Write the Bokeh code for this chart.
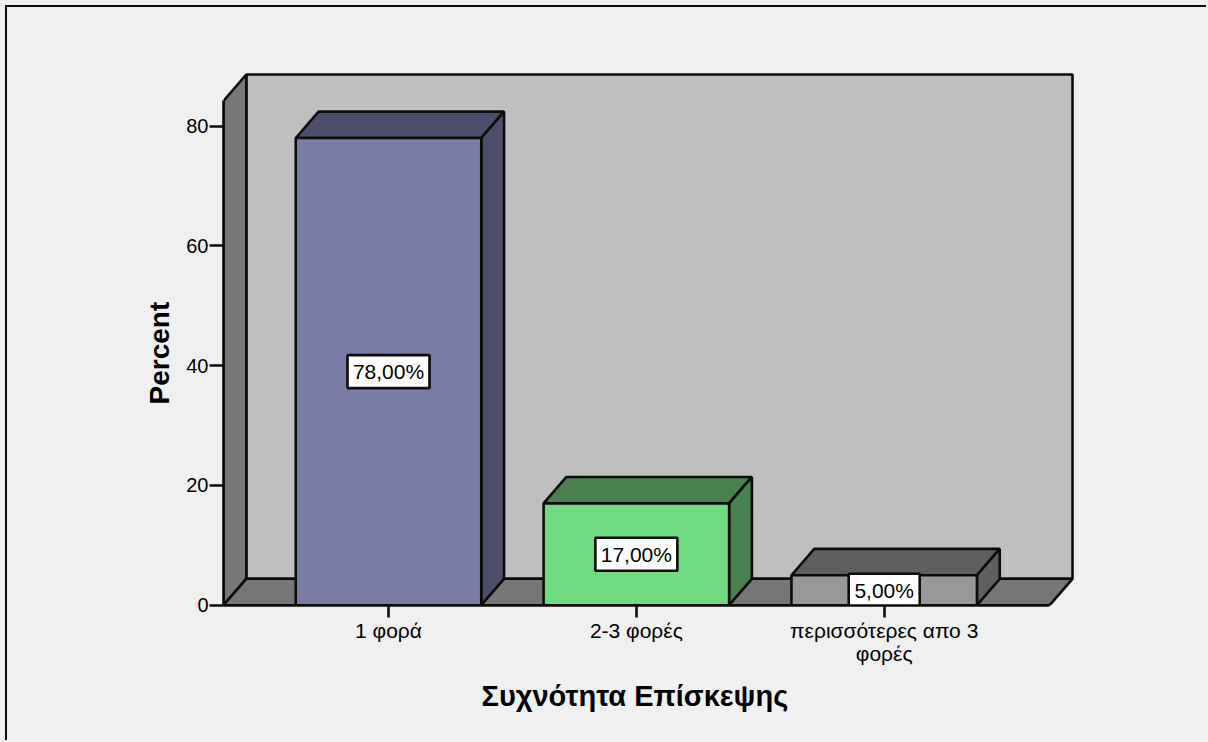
from bokeh.plotting import figure
from bokeh.models import Title, FixedTicker
from bokeh.embed import file_html
from bokeh.resources import INLINE
from bokeh.core.properties import value

categories = ["1 φορά", "2-3 φορές", "περισσότερες απο 3\nφορές"]
percents = [78.0, 17.0, 5.0]
bar_labels = ["78,00%", "17,00%", "5,00%"]
face_colors = ["#7b7ba8", "#71db82", "#989898"]
dark_colors = ["#4d4d6b", "#48804f", "#5f5f5f"]
y_ticks = [0, 20, 40, 60, 80]
y_title = "Percent"
x_title = "Συχνότητα Επίσκεψης"

FONT = "Liberation Sans"
BG = "#f0f0f0"
INK = "#0c0c0c"
OX, OY = 7, 7          # figure content origin on the page
W, H = 1208 - OX, 742 - OY
L, R, T, B = 223 - OX, 1072 - OX, 74 - OY, 605 - OY
PAD = 3                # frame slack so the far wall's outline is not clipped
PX_X = 247.85          # pixels per category
PX_Y = 5.99            # pixels per percent
DX = 22.8 / PX_X       # 3-D depth in data units
DY = 26.4 / PX_Y
BAR_W = 185.5 / PX_X
LW = 2.6
x_pos = [1, 2, 3]
x0 = 1 - (388 - 223) / PX_X
x1 = x0 + (R + PAD - L) / PX_X
y0 = -0.05
y1 = y0 + (B - T + PAD) / PX_Y

p = figure(width=W, height=H, output_backend="svg", toolbar_location=None,
           x_range=(x0, x1), y_range=(y0, y1),
           min_border_left=L, min_border_right=W - R - PAD, min_border_top=T - PAD, min_border_bottom=H - B,
           styles={"border-left": f"2px solid {INK}", "border-top": f"2px solid {INK}",
                   "margin-left": "5px", "margin-top": "5px"})
p.background_fill_color = BG
p.border_fill_color = BG
p.outline_line_color = None
p.grid.visible = False

# walls and floor
xl, xr = x0, x0 + (R - L) / PX_X - DX
top = y0 + (B - T) / PX_Y - DY
p.patches(xs=[[xl + DX, xr + DX, xr + DX, xl + DX]], ys=[[DY, DY, top + DY, top + DY]],
          fill_color="#bfbfbf", line_color=INK, line_width=LW)
p.patches(xs=[[xl, xl + DX, xl + DX, xl]], ys=[[0, DY, top + DY, top]],
          fill_color="#777777", line_color=INK, line_width=LW)
p.patches(xs=[[xl, xl + DX, xr + DX, xr]], ys=[[0, DY, DY, 0]],
          fill_color="#777777", line_color=INK, line_width=LW)

# bars
for xc, v, face, dark in zip(x_pos, percents, face_colors, dark_colors):
    a, b = xc - BAR_W / 2, xc + BAR_W / 2
    p.patches(xs=[[a, a + DX, b + DX, b]], ys=[[v, v + DY, v + DY, v]],
              fill_color=dark, line_color=INK, line_width=LW)
    p.patches(xs=[[b, b + DX, b + DX, b]], ys=[[0, DY, v + DY, v]],
              fill_color=dark, line_color=INK, line_width=LW)
    p.quad(left=a, right=b, bottom=0, top=v, fill_color=face, line_color=INK, line_width=LW)

# value boxes
for xc, v, txt in zip(x_pos, percents, bar_labels):
    p.rect(x=xc, y=v / 2, width=len(txt) * 11 + 16, height=33, width_units="screen", height_units="screen",
           fill_color="white", line_color=INK, line_width=LW)
    p.text(x=[xc], y=[v / 2], text=[txt], text_font=value(FONT), text_font_size="21px",
           text_color="#000000", text_align="center", text_baseline="middle")

# axes
xa = p.xaxis[0]
xa.ticker = FixedTicker(ticks=x_pos)
xa.major_label_overrides = {xp: c for xp, c in zip(x_pos, categories)}
xa.major_label_text_font = FONT
xa.major_label_text_font_size = "21px"
xa.major_label_text_color = "#000000"
xa.major_label_text_line_height = 1.0
xa.major_label_standoff = 1
xa.major_tick_out = 12
xa.major_tick_in = 0
xa.major_tick_line_width = LW
xa.major_tick_line_color = INK
xa.minor_tick_line_color = None
xa.axis_line_width = LW
xa.axis_line_color = INK
xa.bounds = (xl, xr)

ya = p.yaxis[0]
ya.ticker = FixedTicker(ticks=y_ticks)
ya.major_label_text_font = FONT
ya.major_label_text_font_size = "20px"
ya.major_label_text_color = "#000000"
ya.major_label_standoff = 1
ya.major_tick_out = 14
ya.major_tick_in = 0
ya.major_tick_line_width = LW
ya.major_tick_line_color = INK
ya.minor_tick_line_color = None
ya.axis_line_color = INK
ya.axis_line_width = LW
ya.bounds = (0, top)

# axis titles
p.add_layout(Title(text=x_title, align="left", offset=481 - 223, standoff=20,
                   text_font=FONT, text_font_size="29px", text_font_style="bold",
                   text_color="#000000"), "below")
p.add_layout(Title(text=y_title, align="left", offset=605 - 404, standoff=18,
                   text_font=FONT, text_font_size="28px", text_font_style="bold",
                   text_color="#000000"), "left")

html = file_html(p, INLINE)
html = html.replace("<head>", f"<head><style>html,body{{margin:0;padding:0;background:{BG};overflow:hidden}}</style>", 1)
open("out.html", "w").write(html)
